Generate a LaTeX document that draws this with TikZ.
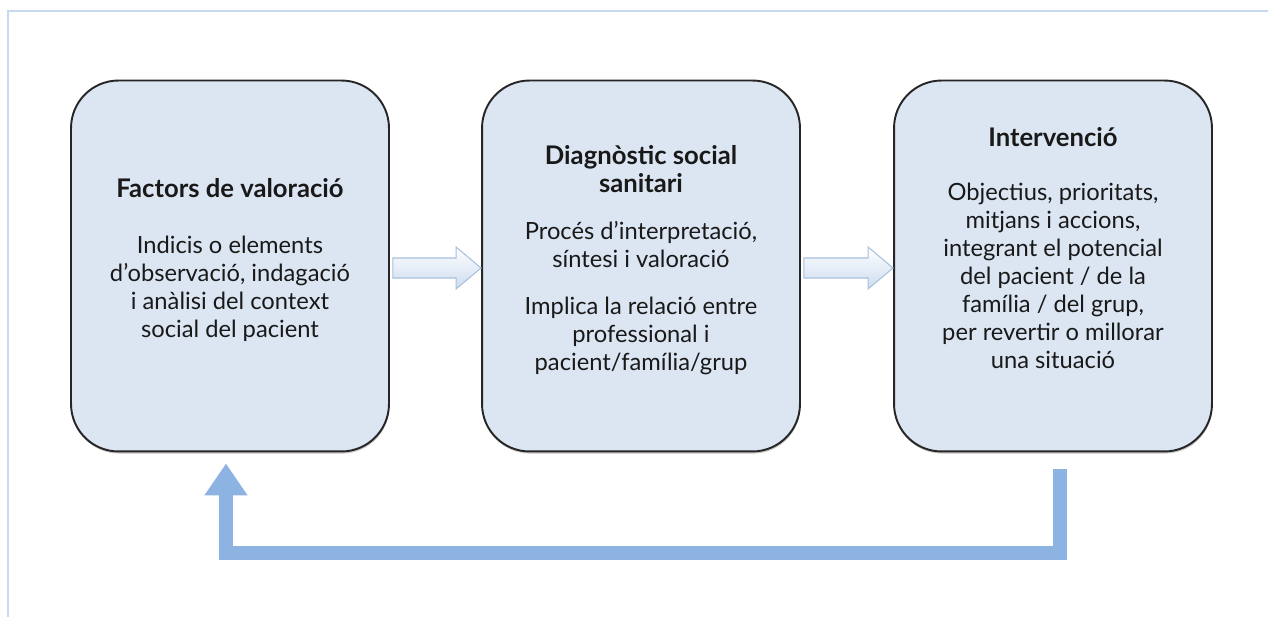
\documentclass[tikz,border=0pt]{standalone}
\usepackage{fontspec}
\setmainfont{Lato}
\usetikzlibrary{calc,arrows.meta,shadows}

\definecolor{boxfill}{HTML}{DCE6F2}
\definecolor{frameblue}{HTML}{C6D9F1}
\definecolor{loopblue}{HTML}{8DB3E2}
\definecolor{flowedge}{HTML}{A7C0DE}

\newcommand{\stagetitle}[1]{{\fontsize{14.6}{15.9}\selectfont\bfseries #1}}

\tikzset{
  stagebox/.style={draw=black!85, line width=1.1pt, fill=boxfill, rounded corners=0.95cm,
    minimum width=6.36cm, minimum height=7.42cm, inner sep=0pt,
    drop shadow={shadow xshift=0.3pt, shadow yshift=-1.2pt, opacity=0.45}},
  stagetext/.style={align=center, font=\fontsize{13.5}{15.9}\selectfont, text=black!90},
  flowarrow/.style={draw=flowedge, line width=0.6pt, top color=white, bottom color=boxfill!80!loopblue},
  backarrow/.style={draw=loopblue, line width=0.28cm, line join=miter,
    -{Triangle[width=0.82cm,length=0.64cm]}}
}

\begin{document}
\begin{tikzpicture}[x=0.02cm,y=0.02cm]
			\useasboundingbox (0,0) rectangle (1268,-617);
			% outer frame
			\draw[frameblue, line width=1.4pt] (1268,-11) -- (8,-11) -- (8,-617);
			% stages
			\node[stagebox] (fac) at (230,-266) {};
			\node[stagebox] (diag) at (641,-266) {};
			\node[stagebox] (inter) at (1053,-266) {};
			\node[stagetext] (factxt) at ($(fac.center)+(0,6)$)
				{\stagetitle{Factors de valoració}\\[16pt]
				Indicis o elements\\ d’observació, indagació\\ i anàlisi del context\\ social del pacient};
			\node[stagetext] (diagtxt) at ($(diag.center)+(0,6)$)
				{\stagetitle{Diagnòstic social}\\ \stagetitle{sanitari}\\[11pt]
				Procés d’interpretació,\\ síntesi i valoració\\[11pt]
				Implica la relació entre\\ professional i\\ pacient/família/grup};
			\node[stagetext] (intertxt) at ($(inter.center)+(0,18)$)
				{\stagetitle{Intervenció}\\[15pt]
				Objectius, prioritats,\\ mitjans i accions,\\ integrant el potencial\\ del pacient / de la\\ família / del grup,\\ per revertir o millorar\\ una situació};
			% flow arrows
			\foreach \a/\b in {fac/diag,diag/inter} {
			\path[flowarrow] ($(\a.east)+(3,-2)+(0,10)$) -- ($(\b.west)+(-25,-2)+(0,10)$)
				-- ($(\b.west)+(-25,-2)+(0,21)$) -- ($(\b.west)+(0,-2)$)
				-- ($(\b.west)+(-25,-2)+(0,-21)$) -- ($(\b.west)+(-25,-2)+(0,-10)$)
				-- ($(\a.east)+(3,-2)+(0,-10)$) -- cycle;
			}
			% back to the start
			\draw[backarrow] ($(inter.south)+(7,-17)$) -- ++(0,-84) -| ($(fac.south)+(-4,-11)$);
		\end{tikzpicture}
\end{document}
